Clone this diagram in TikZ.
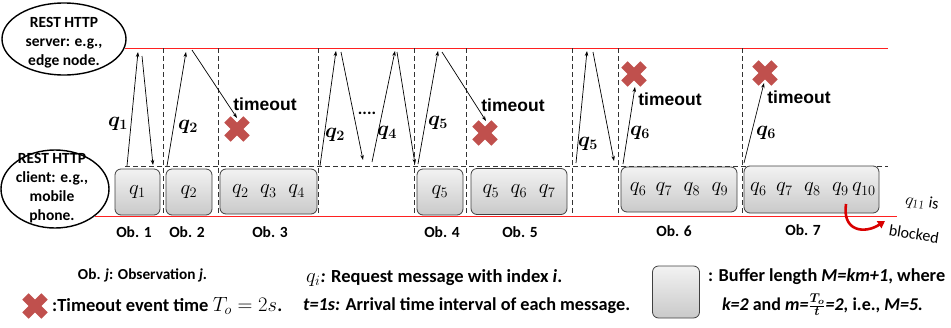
\documentclass[tikz,border=0pt]{standalone}
\usepackage{amsmath}
\usepackage{bm}
\usepackage{graphicx}
\usepackage{fontspec}
\setmainfont{Carlito}
\newfontfamily\arialfont{Liberation Sans}
\usetikzlibrary{arrows.meta,shapes.geometric}
\definecolor{xred}{HTML}{C0504D}
\definecolor{linered}{HTML}{FF2020}
\tikzset{
  lbl/.style={font=\fontsize{15.5}{19}\selectfont\bfseries, align=center, inner sep=0pt},
  ell/.style={draw=black, line width=1.4pt, fill=white, ellipse, inner sep=0pt},
  redline/.style={draw=linered, line width=1pt},
  dline/.style={draw=black!80, line width=0.8pt, dash pattern=on 5pt off 3pt},
  msg/.style={draw=black, line width=0.7pt, -{Stealth[length=5pt,width=3.5pt]}},
  buf/.style={draw=black!75, line width=0.8pt, rounded corners=6pt, top color=gray!10, bottom color=gray!42, inner sep=0pt, font=\fontsize{20}{22}\selectfont},
  qlab/.style={inner sep=0pt, font=\fontsize{20}{22}\selectfont},
  tout/.style={inner sep=0pt, font=\fontsize{17.5}{20}\selectfont\arialfont\bfseries},
  oblab/.style={inner sep=0pt, font=\fontsize{15.5}{19}\selectfont\bfseries},
  leg/.style={inner sep=0pt, font=\fontsize{15.5}{19}\selectfont\bfseries},
  xcross/.pic={\fill[xred] (-13.5,-4.5) rectangle (13.5,4.5); \fill[xred] (-4.5,-13.5) rectangle (4.5,13.5);}
}
\begin{document}
\begin{tikzpicture}[x=1pt,y=-1pt]
\useasboundingbox (0,0) rectangle (951,327);
% main lines
\coordinate (tl) at (125,48); \coordinate (tr) at (888,48);
\coordinate (bl) at (95,216); \coordinate (br) at (897,216);
\coordinate (cl) at (125,166); \coordinate (cr) at (888,166);
\draw[redline] (tl) -- (tr);
\draw[redline] (bl) -- (br);
\draw[dline] (cl) -- (cr);
\foreach \x [count=\i] in {163,218,318,414,466,572,618,742} {
  \coordinate (vt\i) at (\x,48); \coordinate (vb\i) at (\x,216);
  \draw[dline] (vt\i) -- (vb\i);
}
% ellipses
\node[ell, minimum width=124pt, minimum height=72pt] (server) at (64,39) {};
\node[lbl] (servertext) at (64,43) {REST HTTP\\server: e.g.,\\edge node.};
\node[ell, minimum width=108pt, minimum height=78pt] (client) at (55,189) {};
\node[lbl] (clienttext) at (52,188) {REST HTTP\\client: e.g.,\\mobile\\phone.};
% buffers
\node[buf, minimum width=45pt, minimum height=46pt] (b1) at (137.5,192) {$q_1$\hspace{4pt}};
\node[buf, minimum width=46pt, minimum height=46pt] (b2) at (189,192) {$q_2$\hspace{6pt}};
\node[buf, minimum width=97pt, minimum height=45pt] (b3) at (268.5,191.5) {$q_2\;\;q_3\;\;q_4$\hspace{11pt}};
\node[buf, minimum width=46pt, minimum height=46pt] (b4) at (440,192) {$q_5$\hspace{6pt}};
\node[buf, minimum width=96pt, minimum height=46pt] (b5) at (519,191.5) {$q_5\;\;q_6\;\;q_7$\hspace{14pt}};
\node[buf, minimum width=116pt, minimum height=45pt] (b6) at (679,189.5) {$q_6\;\,q_7\;\;q_8\;\;q_9$\hspace{7pt}};
\node[buf, minimum width=135pt, minimum height=47pt] (b7) at (811.5,189.5) {\hspace{3pt}$q_6\;\,q_7\;\;q_8\;\;q_9\,q_{10}$};
% observation labels
\node[oblab] (o1) at (134,232) {Ob. 1};
\node[oblab] (o2) at (187,232) {Ob. 2};
\node[oblab] (o3) at (270,232) {Ob. 3};
\node[oblab] (o4) at (442,232) {Ob. 4};
\node[oblab] (o5) at (520,232) {Ob. 5};
\node[oblab] (o6) at (674,231) {Ob. 6};
\node[oblab] (o7) at (803,230) {Ob. 7};
% message arrows
\coordinate (a1s) at (127,166); \coordinate (a1e) at (138,52);
\coordinate (a2s) at (142,56);  \coordinate (a2e) at (153,165);
\coordinate (a3s) at (167,166); \coordinate (a3e) at (186,52);
\coordinate (a4s) at (192,50);  \coordinate (a4e) at (237,118);
\coordinate (a5s) at (320,166); \coordinate (a5e) at (336,51);
\coordinate (a6s) at (341,52);  \coordinate (a6e) at (363,160);
\coordinate (a7s) at (372,162); \coordinate (a7e) at (395,51);
\coordinate (a8s) at (397,52);  \coordinate (a8e) at (415,164);
\coordinate (a9s) at (418,164); \coordinate (a9e) at (438,51);
\coordinate (a10s) at (442,52); \coordinate (a10e) at (486,121);
\coordinate (a11s) at (576,163); \coordinate (a11e) at (587,51);
\coordinate (a12s) at (593,52); \coordinate (a12e) at (614,161);
\coordinate (a13s) at (623,164); \coordinate (a13e) at (635,87);
\coordinate (a14s) at (744,163); \coordinate (a14e) at (764,83);
\foreach \i in {1,...,14} { \draw[msg] (a\i s) -- (a\i e); }
% arrow labels
\node[qlab] (l1) at (118,124) {$\bm{q_1}$};
\node[qlab] (l2) at (188,127) {$\bm{q_2}$};
\node[qlab] (l3) at (335,135) {$\bm{q_2}$};
\node[qlab, font=\fontsize{17}{20}\selectfont\bfseries] (ldots) at (367,113) {....};
\node[qlab] (l4) at (387,133) {$\bm{q_4}$};
\node[qlab] (l5) at (438,123) {$\bm{q_5}$};
\node[qlab] (l6) at (588,144) {$\bm{q_5}$};
\node[qlab] (l7) at (640,133) {$\bm{q_6}$};
\node[qlab] (l8) at (766,133) {$\bm{q_6}$};
% timeouts
\pic[rotate=45] at (237,129) {xcross};
\pic[rotate=45] at (485,133) {xcross};
\pic[rotate=45] at (634,74) {xcross};
\pic[rotate=45] at (765,73) {xcross};
\node[tout] (t1) at (265,104) {timeout};
\node[tout] (t2) at (513,105) {timeout};
\node[tout] (t3) at (670,99) {timeout};
\node[tout] (t4) at (799,97) {timeout};
% blocked
\coordinate (bk1) at (846,204); \coordinate (bk2) at (885,221);
\draw[draw=red!85!black, line width=2.6pt, -{Triangle[length=7pt,width=8pt]}] (bk1) .. controls (842,232) and (865,234) .. (bk2);
\node[inner sep=0pt, rotate=-9, font=\fontsize{16}{19}\selectfont] (q11) at (922,203) {{\fontsize{18}{20}\selectfont$q_{11}$} is};
\node[inner sep=0pt, rotate=-9, font=\fontsize{16}{19}\selectfont] (blk) at (914,234) {blocked};
% legend
\node[leg] (lg1) at (142.5,275) {\resizebox{129pt}{!}{Ob. \textit{j}: Observation \textit{j}.}};
\node[leg, anchor=west] (lg2) at (306,278) {\resizebox{256pt}{!}{{\fontsize{17}{20}\selectfont$q_i$}\textit{:} Request message with index \textit{i}.}};
\pic[rotate=45] at (35,306) {xcross};
\node[leg, anchor=west] (lg3) at (52,306) {\resizebox{230pt}{!}{:Timeout event time {\fontsize{16.5}{20}\selectfont$T_o=2s$}.}};
\node[leg, anchor=west] (lg4) at (303,306) {\resizebox{327pt}{!}{\textit{t=1s:} Arrival time interval of each message.}};
\node[buf, minimum width=47pt, minimum height=52pt] (lgbox) at (676,292) {};
\node[leg, anchor=west] (lg5) at (708,277) {\resizebox{237pt}{!}{: Buffer length \textit{M=km+1}, where}};
\node[leg] (lg6) at (822.5,305) {\resizebox{201pt}{!}{\textit{k=2} and \textit{m=}$\frac{\bm{T_o}}{\bm{t}}$\textit{=2,} i.e., \textit{M=5.}}};
\end{tikzpicture}
\end{document}
